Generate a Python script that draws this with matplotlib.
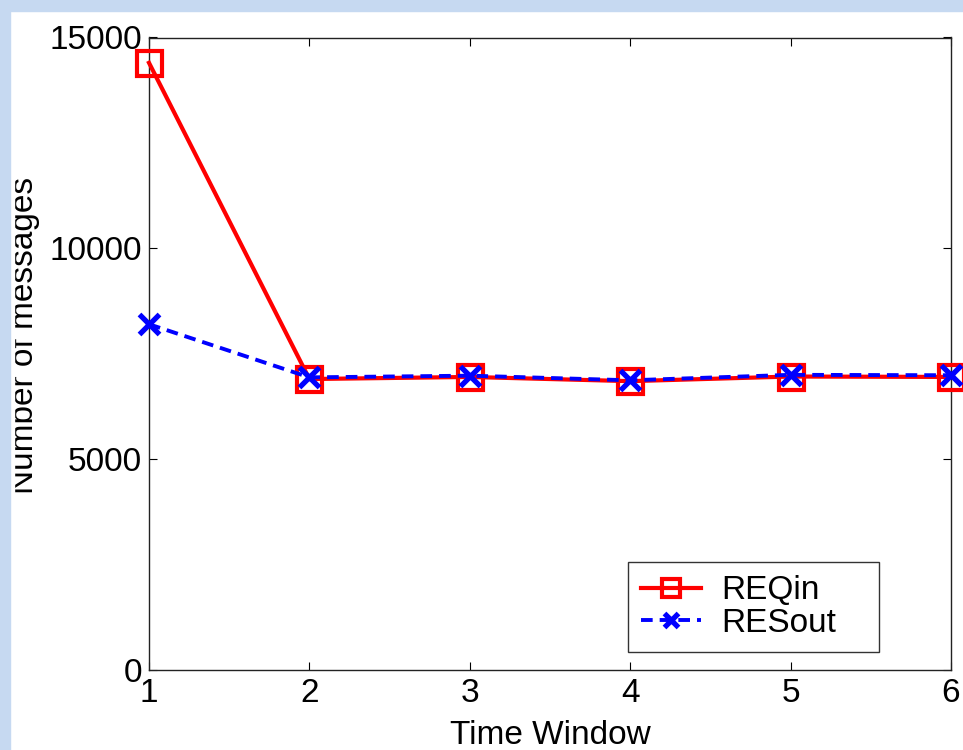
import matplotlib
matplotlib.use("Agg")
import matplotlib.pyplot as plt
from matplotlib.patches import Rectangle

plt.rcParams["font.family"] = ["Liberation Sans", "DejaVu Sans"]

time_window = [1, 2, 3, 4, 5, 6]
req_in = [14400, 6900, 6950, 6850, 6960, 6950]
res_out = [8200, 6940, 6980, 6870, 7000, 6990]
y_ticks = [0, 5000, 10000, 15000]

W, H = 963, 750
fig = plt.figure(figsize=(W / 100, H / 100), dpi=100, facecolor="white")
ax = fig.add_axes([149 / W, 80 / H, (951 - 149) / W, (670 - 37.5) / H])

ax.plot(time_window, req_in, color="#ff0000", lw=3.0, marker="s", ms=18,
        mfc="none", mew=3.0, label="REQin", clip_on=False, zorder=3)
ax.plot(time_window, res_out, color="#0000ff", lw=2.8, ls=(0, (3.0, 1.8)), marker="x",
        ms=14, mew=3.8, label="RESout", clip_on=False, zorder=4)

ax.set_xlim(1, 6)
ax.set_ylim(0, 15000)
ax.set_xticks(time_window)
ax.set_yticks(y_ticks)
ax.tick_params(direction="in", length=6, width=0.8, labelsize=24, top=True, right=True)
ax.tick_params(axis="x", pad=6)
ax.tick_params(axis="y", pad=5)
for s in ax.spines.values():
    s.set_linewidth(1.0)
    s.set_color("#222222")
ax.set_xlabel("Time Window", fontsize=24, labelpad=8)

leg = ax.legend(loc="upper left", bbox_to_anchor=(0.597, 0.03, 0.313, 0.141),
                mode="expand", fontsize=24, frameon=True, fancybox=False,
                edgecolor="black", handlelength=1.8, handletextpad=0.6,
                borderpad=0.4, labelspacing=0.05, borderaxespad=0, markerscale=0.7)
leg.get_frame().set_linewidth(1.0)

fig.text(40 / W, 1 - 335 / H, "Number of messages", rotation=90, fontsize=24,
         ha="right", va="center")

# light blue frame strips on the top and left edges, thin white margin clipping the label
fig.patches.append(Rectangle((10 / W, 0), 4 / W, 1 - 11 / H, transform=fig.transFigure,
                             color="white", zorder=9))
fig.patches.append(Rectangle((0, 0), 10 / W, 1, transform=fig.transFigure,
                             color="#c6d9f1", zorder=10))
fig.patches.append(Rectangle((0, 1 - 11 / H), 1, 11 / H, transform=fig.transFigure,
                             color="#c6d9f1", zorder=10))

fig.savefig("out.png", dpi=100)
